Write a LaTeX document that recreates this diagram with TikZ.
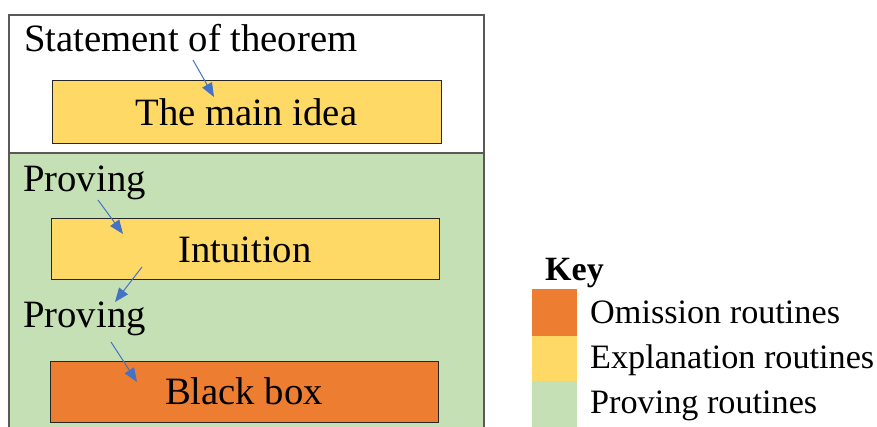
\documentclass[tikz,border=0pt]{standalone}
\usepackage{fontspec}
\setmainfont{Liberation Serif}
\usetikzlibrary{arrows.meta}
\definecolor{expl}{HTML}{FFD966}
\definecolor{omit}{HTML}{ED7D31}
\definecolor{prov}{HTML}{C5E0B4}
\definecolor{arr}{HTML}{4472C4}
\definecolor{frame}{HTML}{595959}
\tikzset{
  bigtext/.style={font=\fontsize{38.7}{44}\selectfont, inner sep=0pt},
  keytext/.style={font=\fontsize{34.2}{40}\selectfont, inner sep=0pt, anchor=base west},
  routinebox/.style={draw=black!85, line width=1pt},
  flowarrow/.style={draw=arr, line width=1pt, -{Triangle[length=14pt,width=11pt]}},
  section/.style={draw=frame, line width=1.2pt},
}
\begin{document}
\begin{tikzpicture}[x=1pt,y=-1pt]
\clip (0,0) rectangle (877,427);
\fill[white] (0,0) rectangle (877,427);
% frame sections
\path[section, fill=white] (9,15) rectangle (484,153);
\path[section, fill=prov] (9,153) rectangle (484,440);
% boxes
\path[routinebox, fill=expl] (52,81) rectangle (441,144);
\node[bigtext] (main) at (246.5,112.5) {The main idea};
\path[routinebox, fill=expl] (51,219) rectangle (439,280);
\node[bigtext] (intu) at (245,249.5) {Intuition};
\path[routinebox, fill=omit] (50,361) rectangle (438,422);
\node[bigtext] (bbox) at (244,391.5) {Black box};
% labels
\node[bigtext, anchor=base west] (stmt) at (24,52) {Statement of theorem};
\node[bigtext, anchor=base west] (prov1) at (23,192) {Proving};
\node[bigtext, anchor=base west] (prov2) at (23,327) {Proving};
% arrow coordinates
\coordinate (a1s) at (193,60);  \coordinate (a1e) at (214,97);
\coordinate (a2s) at (98,200);  \coordinate (a2e) at (123,234);
\coordinate (a3s) at (142,267); \coordinate (a3e) at (115,302);
\coordinate (a4s) at (111,342); \coordinate (a4e) at (137,382);
\draw[flowarrow] (a1s) -- (a1e);
\draw[flowarrow] (a2s) -- (a2e);
\draw[flowarrow] (a3s) -- (a3e);
\draw[flowarrow] (a4s) -- (a4e);
% key
\node[keytext, font=\fontsize{34}{40}\selectfont\bfseries] (key) at (545,280) {Key};
\fill[omit] (532,289) rectangle (577,336);
\fill[expl] (532,336) rectangle (577,381);
\fill[prov] (532,381) rectangle (577,430);
\node[keytext] (k1) at (590,323) {Omission routines};
\node[keytext] (k2) at (590,368) {Explanation routines};
\node[keytext] (k3) at (590,413) {Proving routines};
\end{tikzpicture}
\end{document}
